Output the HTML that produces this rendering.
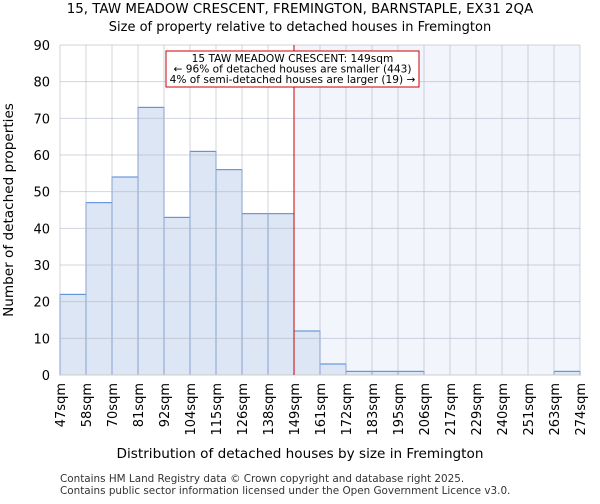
<!DOCTYPE html>
<html><head><meta charset="utf-8"><style>
body{margin:0;background:#fff;font-family:"DejaVu Sans","Liberation Sans",sans-serif}
svg text{font-family:"DejaVu Sans","Liberation Sans",sans-serif}
</style></head><body>
<svg id="c" width="600" height="500" xmlns="http://www.w3.org/2000/svg">
<text x="300" y="13" text-anchor="middle" font-size="13.4">15, TAW MEADOW CRESCENT, FREMINGTON, BARNSTAPLE, EX31 2QA</text>
<text x="300" y="31" text-anchor="middle" font-size="13">Size of property relative to detached houses in Fremington</text>
<g id="plot"></g>
<text x="300" y="458" text-anchor="middle" font-size="13.6">Distribution of detached houses by size in Fremington</text>
<text transform="translate(13,210) rotate(-90)" text-anchor="middle" font-size="13.6">Number of detached properties</text>
<text x="60" y="482" font-size="10.4" fill="#333">Contains HM Land Registry data © Crown copyright and database right 2025.</text>
<text x="60" y="494" font-size="10.4" fill="#333">Contains public sector information licensed under the Open Government Licence v3.0.</text>
</svg>
<script>
const tickLabels=["47sqm","58sqm","70sqm","81sqm","92sqm","104sqm","115sqm","126sqm","138sqm","149sqm","161sqm","172sqm","183sqm","195sqm","206sqm","217sqm","229sqm","240sqm","251sqm","263sqm","274sqm"];
const counts=[22,47,54,73,43,61,56,44,44,12,3,1,1,1,0,0,0,0,0,1];
const yTicks=[0,10,20,30,40,50,60,70,80,90];
const markerBin=9;
const L=60,R=580,T=45,B=375,yMax=90;
const NS="http://www.w3.org/2000/svg";
const g=document.getElementById('plot');
const bw=(R-L)/counts.length;
const x=i=>L+i*bw;
const y=v=>B-(v/yMax)*(B-T);
function mk(t,a){const e=document.createElementNS(NS,t);for(const k in a)e.setAttribute(k,a[k]);g.appendChild(e);return e;}
const sh=mk('rect',{x:x(markerBin),y:T,width:R-x(markerBin),height:B-T,fill:'#f3f5fd'});


counts.forEach((c,i)=>{if(c<=0)return;const r=mk('rect',{x:x(i),y:y(c),width:bw,height:B-y(c),fill:'#dde6f4',stroke:'#4a86d8','stroke-width':1});

});
yTicks.forEach(v=>{const l=mk('line',{x1:L,x2:R,y1:y(v),y2:y(v),stroke:'#b0b8c8','stroke-width':1,'stroke-opacity':0.6});


const t=mk('text',{x:L-10,y:y(v)+5,'text-anchor':'end','font-size':13});t.textContent=v;

});
tickLabels.forEach((lab,i)=>{const l=mk('line',{x1:x(i),x2:x(i),y1:T,y2:B,stroke:'#b0b8c8','stroke-width':1,'stroke-opacity':0.6});


const t=mk('text',{transform:`translate(${x(i)+5},${B+8}) rotate(-90)`,'text-anchor':'end','font-size':13});t.textContent=lab;

});
const ax=mk('line',{x1:L,x2:R,y1:B,y2:B,stroke:'#ccc','stroke-width':1});


const ml=mk('line',{x1:x(markerBin),x2:x(markerBin),y1:T,y2:B,stroke:'#cc0000','stroke-width':1});


const box=mk('rect',{x:166,y:51,width:253,height:36,fill:'#fff',stroke:'#cc0000','stroke-width':1});


["15 TAW MEADOW CRESCENT: 149sqm","← 96% of detached houses are smaller (443)","4% of semi-detached houses are larger (19) →"].forEach((s,i)=>{const t=mk('text',{x:292.5,y:62+i*10.5,'text-anchor':'middle','font-size':10.6});t.textContent=s;

});
</script>
</body></html>
